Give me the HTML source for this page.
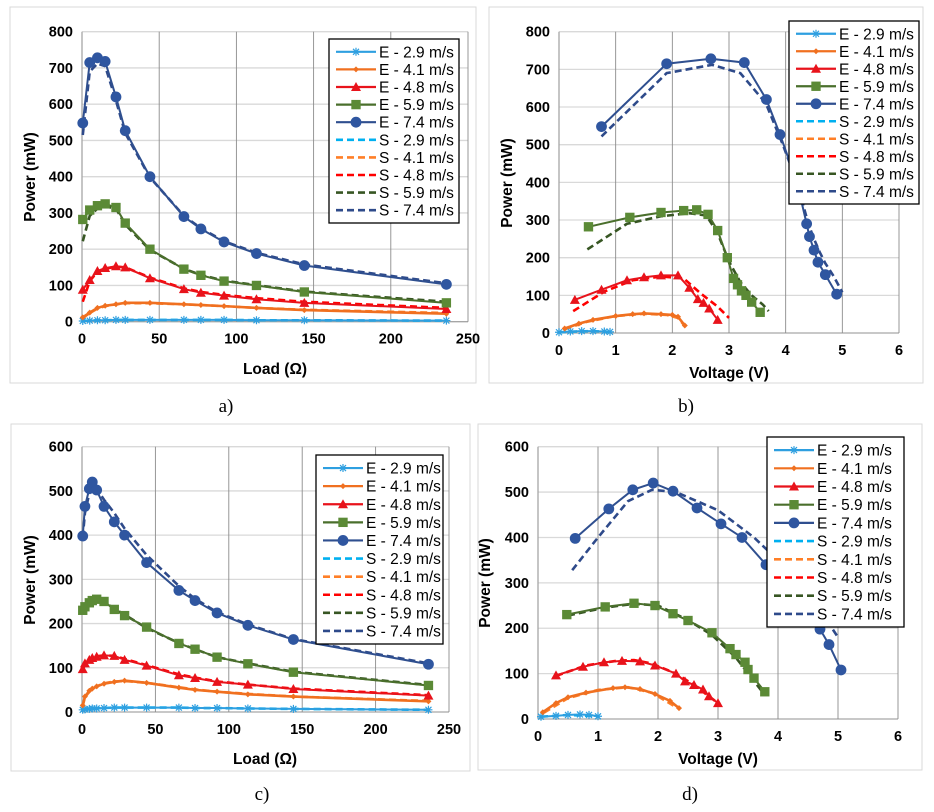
<!DOCTYPE html>
<html><head><meta charset="utf-8">
<style>
body{margin:0;background:#fff;width:934px;height:812px;overflow:hidden;font-family:"Liberation Sans",sans-serif}
svg{position:absolute;left:0;top:0}
.cap{font-family:"Liberation Serif",serif;font-size:19px}
</style></head>
<body>
<svg id="fig" width="934" height="812"></svg>
<script>
// ---------- data ----------
const seriesNames=["E - 2.9 m/s","E - 4.1 m/s","E - 4.8 m/s","E - 5.9 m/s","E - 7.4 m/s","S - 2.9 m/s","S - 4.1 m/s","S - 4.8 m/s","S - 5.9 m/s","S - 7.4 m/s"];
const loadTicks=[0,50,100,150,200,250];
const voltTicks=[0,1,2,3,4,5,6];
const powTicksA=[0,100,200,300,400,500,600,700,800];
const powTicksC=[0,100,200,300,400,500,600];
// panel a (load vs power)
const aX=[0.5,5,10,15,22,28,44,66,77,92,113,144,236];
const aE29=[2,3,4,4,5,5,5,5,5,5,4,4,3];
const aE41=[12,25,38,44,48,52,52,48,46,43,38,32,22];
const aE48=[88,115,140,148,153,150,120,90,80,72,62,52,35];
const aE59=[282,308,320,325,315,272,200,145,128,112,100,82,52];
const aE74=[548,715,728,718,620,527,400,290,256,220,188,155,103];
const aS29=[2,3,4,4,5,5,5,5,5,5,4,4,3];
const aS41=[10,24,36,43,48,51,51,48,46,43,38,33,24];
const aS48=[55,112,138,146,152,150,122,92,82,74,65,55,38];
const aS59=[222,292,312,318,312,268,198,146,129,113,101,83,55];
const aS74=[515,690,712,705,610,520,398,292,258,222,190,158,106];
// panel b (voltage vs power)
const bE29x=[0,0.2,0.4,0.6,0.8,0.9], bE29y=[2,4,5,5,4,3];
const bE41x=[0.1,0.35,0.6,1.0,1.3,1.5,1.8,2.0,2.1,2.22], bE41y=[12,25,35,45,50,52,50,48,43,20];
const bE48x=[0.28,0.75,1.2,1.5,1.8,2.1,2.3,2.45,2.55,2.65,2.8], bE48y=[88,115,140,148,153,153,120,90,80,65,35];
const bE59x=[0.52,1.25,1.8,2.2,2.43,2.63,2.8,2.97,3.08,3.15,3.22,3.3,3.4,3.55], bE59y=[282,307,320,325,327,315,272,200,145,128,112,100,82,55];
const bE74x=[0.75,1.9,2.68,3.27,3.66,3.9,4.2,4.37,4.42,4.5,4.57,4.7,4.9], bE74y=[548,715,728,718,620,527,400,290,256,220,188,155,103];
const bS29x=[0,0.3,0.6,0.9], bS29y=[2,4,5,3];
const bS41x=[0.1,0.5,1.0,1.5,1.9,2.1,2.2], bS41y=[10,30,45,51,48,40,22];
const bS48x=[0.25,0.8,1.3,1.8,2.2,2.5,2.8,3.0], bS48y=[58,110,140,150,145,105,70,40];
const bS59x=[0.5,1.2,1.8,2.3,2.6,2.8,3.0,3.2,3.4,3.6,3.7], bS59y=[222,290,310,318,312,265,190,135,100,75,58];
const bS74x=[0.75,1.9,2.7,3.2,3.65,3.95,4.2,4.4,4.5,4.6,4.7,4.85,5.0], bS74y=[522,690,712,690,610,500,400,290,250,215,185,150,108];
// panel c (load vs power)
const cX=[0.5,2,5,7,10,15,22,29,44,66,77,92,113,144,236];
const cE29=[5,6,7,8,8,9,10,10,10,10,9,9,8,7,5];
const cE41=[15,35,48,53,58,64,68,71,66,55,50,46,40,35,24];
const cE48=[97,110,118,122,125,128,127,118,105,83,77,68,62,52,37];
const cE59=[230,238,247,252,255,250,232,218,192,155,142,124,109,90,60];
const cE74=[398,465,505,520,502,465,430,400,338,275,252,224,196,164,108];
const cS29=[5,6,7,8,8,9,10,10,10,10,9,9,8,7,5];
const cS41=[14,33,46,52,58,65,69,70,66,56,51,46,41,35,25];
const cS48=[95,108,116,121,126,128,127,120,106,85,78,69,62,53,38];
const cS59=[228,236,245,250,254,250,234,220,190,156,142,124,110,91,61];
const cS74=[395,450,495,510,505,480,450,415,355,285,256,226,198,165,110];
// panel d (voltage vs power)
const dE29x=[0.05,0.3,0.5,0.7,0.85,1.0], dE29y=[5,7,9,10,9,6];
const dE41x=[0.08,0.3,0.5,0.8,1.25,1.45,1.7,1.95,2.2,2.35], dE41y=[15,35,48,58,68,70,66,55,40,24];
const dE48x=[0.3,0.75,1.1,1.4,1.7,1.95,2.3,2.45,2.6,2.75,2.85,3.0], dE48y=[96,115,125,128,127,118,100,83,75,65,50,35];
const dE59x=[0.48,1.12,1.6,1.95,2.25,2.5,2.9,3.2,3.3,3.45,3.5,3.6,3.78], dE59y=[230,247,255,250,232,217,190,155,142,125,109,90,60];
const dE74x=[0.62,1.18,1.58,1.92,2.25,2.65,3.05,3.4,3.8,4.3,4.7,4.85,5.05], dE74y=[398,463,505,520,502,465,430,400,340,275,198,164,108];
const dS29x=[0.05,0.5,1.0], dS29y=[5,9,6];
const dS41x=[0.1,0.5,1.0,1.5,1.9,2.3], dS41y=[14,46,64,70,58,26];
const dS48x=[0.3,0.8,1.3,1.6,1.9,2.3,2.6,3.0], dS48y=[95,118,128,130,122,100,75,35];
const dS59x=[0.5,1.1,1.6,2.0,2.5,2.9,3.3,3.75], dS59y=[228,245,254,250,218,185,135,58];
const dS74x=[0.57,1.0,1.5,1.9,2.3,3.0,3.6,4.0,4.4,4.8,5.0], dS74y=[328,400,480,505,500,460,400,350,290,220,180];

// ---------- drawing ----------
const NS="http://www.w3.org/2000/svg";
const svg=document.getElementById('fig');
const colE=["#2e9fe0","#f07020","#e8131b","#4a6f2c","#2f4f8f"];
const colS=["#00b0f0","#ff7f27","#ff0000","#375623","#2e4a8a"];
const mFill=["#2e9fe0","#f07020","#e8131b","#5b8a36","#2f56a0"];
const mk=["star","diamond","tri","square","circle"];
function el(tag,attrs,parent){const e=document.createElementNS(NS,tag);for(const k in attrs)e.setAttribute(k,attrs[k]);(parent||svg).appendChild(e);return e;}
function marker(g,type,x,y,c,s){
  let m;
  if(type==="circle"){m=el('circle',{cx:x,cy:y,r:s*0.9,fill:c},g);}
  else if(type==="square"){m=el('rect',{x:x-s*0.85,y:y-s*0.85,width:s*1.7,height:s*1.7,fill:c},g);}
  else if(type==="tri"){m=el('polygon',{points:`${x},${y-s} ${x-s},${y+s*0.8} ${x+s},${y+s*0.8}`,fill:c},g);}
  else if(type==="diamond"){m=el('polygon',{points:`${x},${y-s*0.6} ${x+s*0.6},${y} ${x},${y+s*0.6} ${x-s*0.6},${y}`,fill:c},g);}
  else {m=el('path',{d:`M${x-s*0.8},${y}H${x+s*0.8}M${x},${y-s*0.8}V${y+s*0.8}M${x-s*0.6},${y-s*0.6}L${x+s*0.6},${y+s*0.6}M${x+s*0.6},${y-s*0.6}L${x-s*0.6},${y+s*0.6}`,stroke:c,'stroke-width':1.2,fill:'none'},g);}
  
  
}
function chart(P){
  const g=el('g',{});
  
  
  const frame=el('rect',{x:P.box[0],y:P.box[1],width:P.box[2]-P.box[0],height:P.box[3]-P.box[1],fill:'#fff',stroke:'#d9d9d9'},g);
  
  
  const sx=v=>P.x0+(v-P.xt[0])/(P.xt[P.xt.length-1]-P.xt[0])*(P.x1-P.x0);
  const sy=v=>P.y0-(v-P.yt[0])/(P.yt[P.yt.length-1]-P.yt[0])*(P.y0-P.y1);
  P.yt.forEach(t=>{
    const l=el('line',{x1:P.x0,x2:P.x1,y1:sy(t),y2:sy(t),stroke:t===0?'#a6a6a6':'#d9d9d9','stroke-width':1.3},g);
    
    
    const tx=el('text',{x:P.x0-9,y:sy(t)+5,'text-anchor':'end','font-size':14.5,'font-weight':'bold',fill:'#000'},g);tx.textContent=t;
    
    
  });
  P.xt.forEach(t=>{
    const l=el('line',{x1:sx(t),x2:sx(t),y1:P.y1,y2:P.y0,stroke:t===0?'#a6a6a6':'#8c8c8c','stroke-width':t===0?1.3:0.9},g);
    
    
    const tx=el('text',{x:sx(t),y:P.y0+22,'text-anchor':'middle','font-size':14.5,'font-weight':'bold'},g);tx.textContent=t;
    
    
  });
  const xt=el('text',{x:P.xTitle[0],y:P.xTitle[1],'text-anchor':'middle','font-size':15.5,'font-weight':'bold'},g);xt.textContent=P.xLabel;
  
  
  const yt=el('text',{x:0,y:0,'text-anchor':'middle','font-size':15.5,'font-weight':'bold',transform:`translate(${P.yTitle[0]},${P.yTitle[1]}) rotate(-90)`},g);yt.textContent="Power (mW)";
  
  
  P.S.forEach((s,i)=>{
    const p=el('polyline',{points:s[0].map((x,k)=>sx(x)+','+sy(s[1][k])).join(' '),fill:'none',stroke:colS[i],'stroke-width':2.6,'stroke-dasharray':'7,4'},g);
    
    
  });
  P.E.forEach((s,i)=>{
    const p=el('polyline',{points:s[0].map((x,k)=>sx(x)+','+sy(s[1][k])).join(' '),fill:'none',stroke:colE[i],'stroke-width':i===1?2.6:2},g);
    
    
    s[0].forEach((x,k)=>marker(g,mk[i],sx(x),sy(s[1][k]),mFill[i],[5,5,5,5.5,6][i]));
  });
  const L=P.legend;
  const lg=el('g',{},g);
  
  
  el('rect',{x:L[0],y:L[1],width:L[2]-L[0],height:L[3]-L[1],fill:'#fff',stroke:'#000','stroke-width':1.3},lg);
  const step=(L[3]-L[1]-8)/10;
  seriesNames.forEach((n,i)=>{
    const cy=L[1]+4+step*(i+0.5);
    const lx=L[0]+7, lw=40;
    const c=i<5?colE[i]:colS[i-5];
    const ln=el('line',{x1:lx,x2:lx+lw,y1:cy,y2:cy,stroke:c,'stroke-width':i<5?2.2:2.6,'stroke-dasharray':i<5?'none':'7,4'},lg);
    
    
    if(i<5)marker(lg,mk[i],lx+lw/2,cy,mFill[i],[5,5,5,5.5,6][i]);
    const t=el('text',{x:lx+lw+3,y:cy+5.5,'font-size':15.5},lg);t.textContent=n;
    
    
  });
}
chart({name:'chart-a',box:[10,7,476,383],x0:82,x1:468,y0:321.7,y1:31.7,xt:loadTicks,yt:powTicksA,xLabel:"Load (Ω)",xTitle:[275,374],yTitle:[35,177],legend:[329,39,459,223],
  E:[[aX,aE29],[aX,aE41],[aX,aE48],[aX,aE59],[aX,aE74]],S:[[aX,aS29],[aX,aS41],[aX,aS48],[aX,aS59],[aX,aS74]]});
chart({name:'chart-b',box:[489,7,923,383],x0:559,x1:899,y0:333,y1:31.7,xt:voltTicks,yt:powTicksA,xLabel:"Voltage (V)",xTitle:[729,378],yTitle:[512,183],legend:[789,21,919,204],
  E:[[bE29x,bE29y],[bE41x,bE41y],[bE48x,bE48y],[bE59x,bE59y],[bE74x,bE74y]],S:[[bS29x,bS29y],[bS41x,bS41y],[bS48x,bS48y],[bS59x,bS59y],[bS74x,bS74y]]});
chart({name:'chart-c',box:[11,424,470,771],x0:82,x1:449,y0:712,y1:446.7,xt:loadTicks,yt:powTicksC,xLabel:"Load (Ω)",xTitle:[265,764],yTitle:[35,580],legend:[316,455,443,644],
  E:[[cX,cE29],[cX,cE41],[cX,cE48],[cX,cE59],[cX,cE74]],S:[[cX,cS29],[cX,cS41],[cX,cS48],[cX,cS59],[cX,cS74]]});
chart({name:'chart-d',box:[478,424,922,770],x0:538,x1:898,y0:719,y1:446.7,xt:voltTicks,yt:powTicksC,xLabel:"Voltage (V)",xTitle:[718,764],yTitle:[490,583],legend:[767,437,904,627],
  E:[[dE29x,dE29y],[dE41x,dE41y],[dE48x,dE48y],[dE59x,dE59y],[dE74x,dE74y]],S:[[dS29x,dS29y],[dS41x,dS41y],[dS48x,dS48y],[dS59x,dS59y],[dS74x,dS74y]]});
[["a)",226,412],["b)",686,412],["c)",262,800],["d)",690,800]].forEach(c=>{
  const t=el('text',{x:c[1],y:c[2],'text-anchor':'middle',class:'cap'});t.textContent=c[0];
  
  
});
</script>
</body></html>
